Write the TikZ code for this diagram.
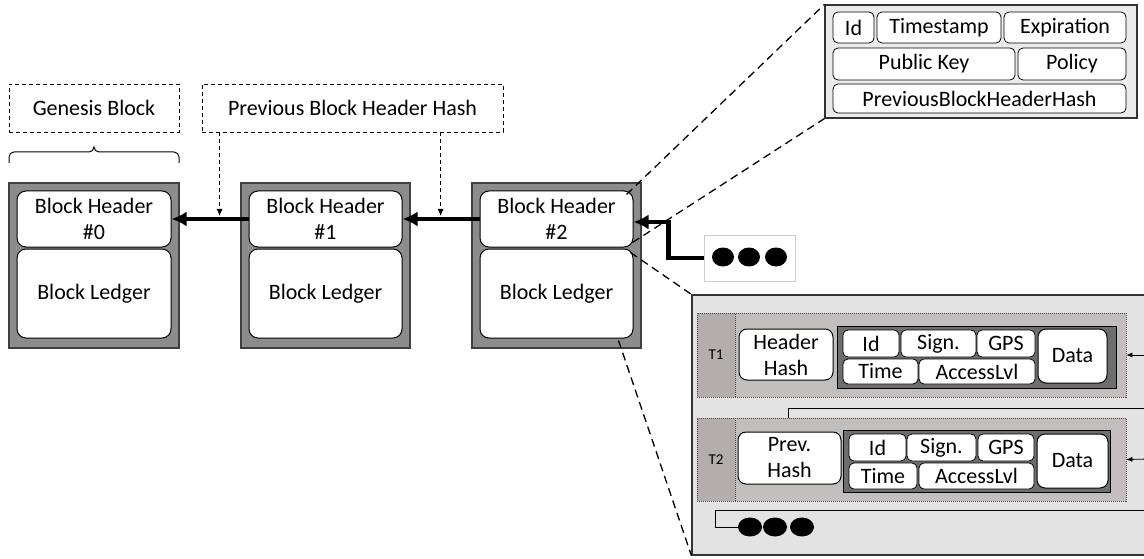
\documentclass[tikz,border=0pt]{standalone}
\usepackage{fontspec}
\setmainfont{Carlito}
\usetikzlibrary{calc,arrows.meta,shapes.geometric}
\definecolor{blkgray}{HTML}{8C8C8C}
\definecolor{panelgray}{HTML}{E3E3E3}
\definecolor{topgray}{HTML}{EBEBEB}
\definecolor{rowgray}{HTML}{C3BEBE}
\definecolor{labgray}{HTML}{B3ADAD}
\definecolor{innerdark}{HTML}{6E6E6E}
% \bx{style}{name}{x1}{y1}{x2}{y2}{text}
\newcommand\bx[7]{%
  \node[#1,minimum width={(#5)-(#3)},minimum height={(#6)-(#4)}] (#2)
    at ({((#3)+(#5))/2},{((#4)+(#6))/2}) {#7};}
\begin{document}
\begin{tikzpicture}[x=1pt,y=-1pt,font=\fontsize{22}{26}\selectfont,
  every node/.style={inner sep=0pt,align=center},
  blk/.style={draw=black!75,fill=blkgray,line width=1.5pt},
  wbox/.style={draw=black,fill=white,rounded corners=9pt,line width=1pt},
  field/.style={draw=black,fill=white,rounded corners=5pt,line width=0.8pt},
  dbox/.style={draw=black,line width=0.8pt,dash pattern=on 4pt off 3pt},
  thickarr/.style={line width=4.5pt,-{Latex[length=15pt,width=15pt]}},
  dasharr/.style={line width=0.8pt,dash pattern=on 4pt off 3pt,-{Latex[length=7pt,width=6pt]}},
  thinarr/.style={line width=0.8pt,-{Latex[length=6pt,width=5pt]}},
  zoomline/.style={line width=1.3pt,dash pattern=on 8pt off 5pt},
  panel/.style={draw=black!80,line width=1.2pt},
  rowbox/.style={draw=black!70,fill=rowgray,line width=0.6pt,dash pattern=on 1pt off 1pt},
  labbox/.style={draw=black!70,fill=labgray,line width=0.6pt,dash pattern=on 1pt off 1pt,font=\fontsize{15}{17}\selectfont},
  darkbox/.style={draw=black,fill=innerdark,line width=1pt},
  dot/.style={ellipse,fill=black,minimum width=22pt,minimum height=19pt}]
\useasboundingbox (0,0) rectangle (1144,559);
\clip (0,0) rectangle (1144,559);

% labels above the chain
\bx{dbox}{gb}{9}{84}{179}{132}{Genesis Block}
\bx{dbox}{pb}{202}{84}{503}{132}{Previous Block Header Hash}
\draw[line width=1pt] (9,163) -- (9,157) to[out=90,in=180] (14,152) -- (89,152)
  to[out=0,in=-90] (94,147) to[out=-90,in=180] (99,152) -- (174,152)
  to[out=0,in=90] (179,157) -- (179,163);

% blocks
\bx{blk}{b0}{9}{183}{179}{348}{}
\bx{wbox}{h0}{17}{191}{171}{247}{Block Header\\\#0}
\bx{wbox}{l0}{17}{249}{171}{338}{Block Ledger}
\bx{blk}{b1}{241}{183}{410}{348}{}
\bx{wbox}{h1}{249}{191}{402}{247}{Block Header\\\#1}
\bx{wbox}{l1}{249}{249}{402}{338}{Block Ledger}
\bx{blk}{b2}{472}{183}{641}{348}{}
\bx{wbox}{h2}{480}{191}{633}{247}{Block Header\\\#2}
\bx{wbox}{l2}{480}{249}{633}{338}{Block Ledger}

\draw[thickarr] (h1.west) -- (h0.east);
\draw[thickarr] (h2.west) -- (h1.east);

\coordinate (pa) at ($(pb.south west)+(18,0)$);
\coordinate (pc) at ($(pb.south west)+(239,0)$);
\draw[dasharr] (pa) -- ($(pa |- h1.west)+(0,-3)$);
\draw[dasharr] (pc) -- ($(pc |- h2.west)+(0,-3)$);

% dots box feeding block 2
\bx{draw=black!20,fill=white,line width=1pt}{db}{704}{235}{795}{281}{}
\node[dot] (d1) at (723,257) {};
\node[dot] (d2) at (749,257) {};
\node[dot] (d3) at (776,257) {};
\draw[thickarr] (db.west) -- ++(-35,0) |- ($(h2.east)+(0,3)$);

% header detail box
\bx{panel,fill=topgray}{tb}{825}{5}{1137}{118}{}
\bx{field}{fid}{833}{12}{874}{43}{Id}
\bx{field}{fts}{877}{12}{1001}{43}{Timestamp}
\bx{field}{fex}{1004}{12}{1126}{43}{Expiration}
\bx{field}{fpk}{833}{48}{1015}{80}{Public Key}
\bx{field}{fpo}{1018}{48}{1126}{80}{Policy}
\bx{field}{fph}{833}{84}{1126}{113}{PreviousBlockHeaderHash}

% ledger detail panel
\bx{panel,fill=panelgray}{bp}{692}{295}{1170}{555}{}

\bx{rowbox}{r1}{697}{313}{1126}{397}{}
\bx{labbox}{t1}{697}{313}{735}{397}{T1}
\bx{wbox,rounded corners=8pt}{hh1}{739}{329}{833}{380}{Header\\Hash}
\bx{darkbox}{k1}{837}{326}{1116}{388}{}
\bx{field}{a1}{843}{330}{899}{357}{Id}
\bx{field}{s1}{901}{330}{976}{357}{Sign.}
\bx{field}{g1}{977}{330}{1035}{357}{GPS}
\bx{field}{m1}{843}{359}{918}{384}{Time}
\bx{field}{v1}{919}{359}{1035}{384}{AccessLvl}
\bx{wbox,rounded corners=8pt}{x1}{1038}{329}{1107}{383}{Data}

\bx{rowbox}{r2}{697}{418}{1126}{501}{}
\bx{labbox}{t2}{697}{418}{735}{501}{T2}
\bx{wbox,rounded corners=8pt}{hh2}{738}{432}{841}{484}{Prev.\\Hash}
\bx{darkbox}{k2}{843}{430}{1110}{492}{}
\bx{field}{a2}{849}{434}{906}{461}{Id}
\bx{field}{s2}{907}{434}{976}{461}{Sign.}
\bx{field}{g2}{978}{434}{1034}{461}{GPS}
\bx{field}{m2}{849}{463}{917}{489}{Time}
\bx{field}{v2}{919}{463}{1034}{489}{AccessLvl}
\bx{wbox,rounded corners=8pt}{x2}{1037}{434}{1108}{488}{Data}

\node[dot,minimum width=24pt] (d4) at (750,527) {};
\node[dot,minimum width=24pt] (d5) at (775,527) {};
\node[dot,minimum width=24pt] (d6) at (802,527) {};

\coordinate (in1) at (1150,355);
\coordinate (in2) at (1150,408);
\coordinate (in3) at (1150,459);
\coordinate (in4) at (1150,510);
\coordinate (t2top) at ($(r2.north west)+(92,0)$);
\coordinate (dk) at ($(d4.west)+(-22,0)$);
\draw[thinarr] (in1) -- (r1.east);
\draw[line width=0.8pt] (in2) -| (t2top);
\draw[thinarr] (in3) -- (r2.east);
\draw[line width=0.8pt] (in4) -| (dk) -- (d4.west);

% zoom lines
\draw[zoomline] ($(h2.north east)+(-7,4)$) -- (tb.north west);
\draw[zoomline] ($(h2.south east)+(-1,-5)$) -- (tb.south west);
\draw[zoomline] ($(l2.north east)+(-3,4)$) -- (bp.north west);
\draw[zoomline] ($(l2.south east)+(-15,2)$) -- (bp.south west);
\end{tikzpicture}
\end{document}
